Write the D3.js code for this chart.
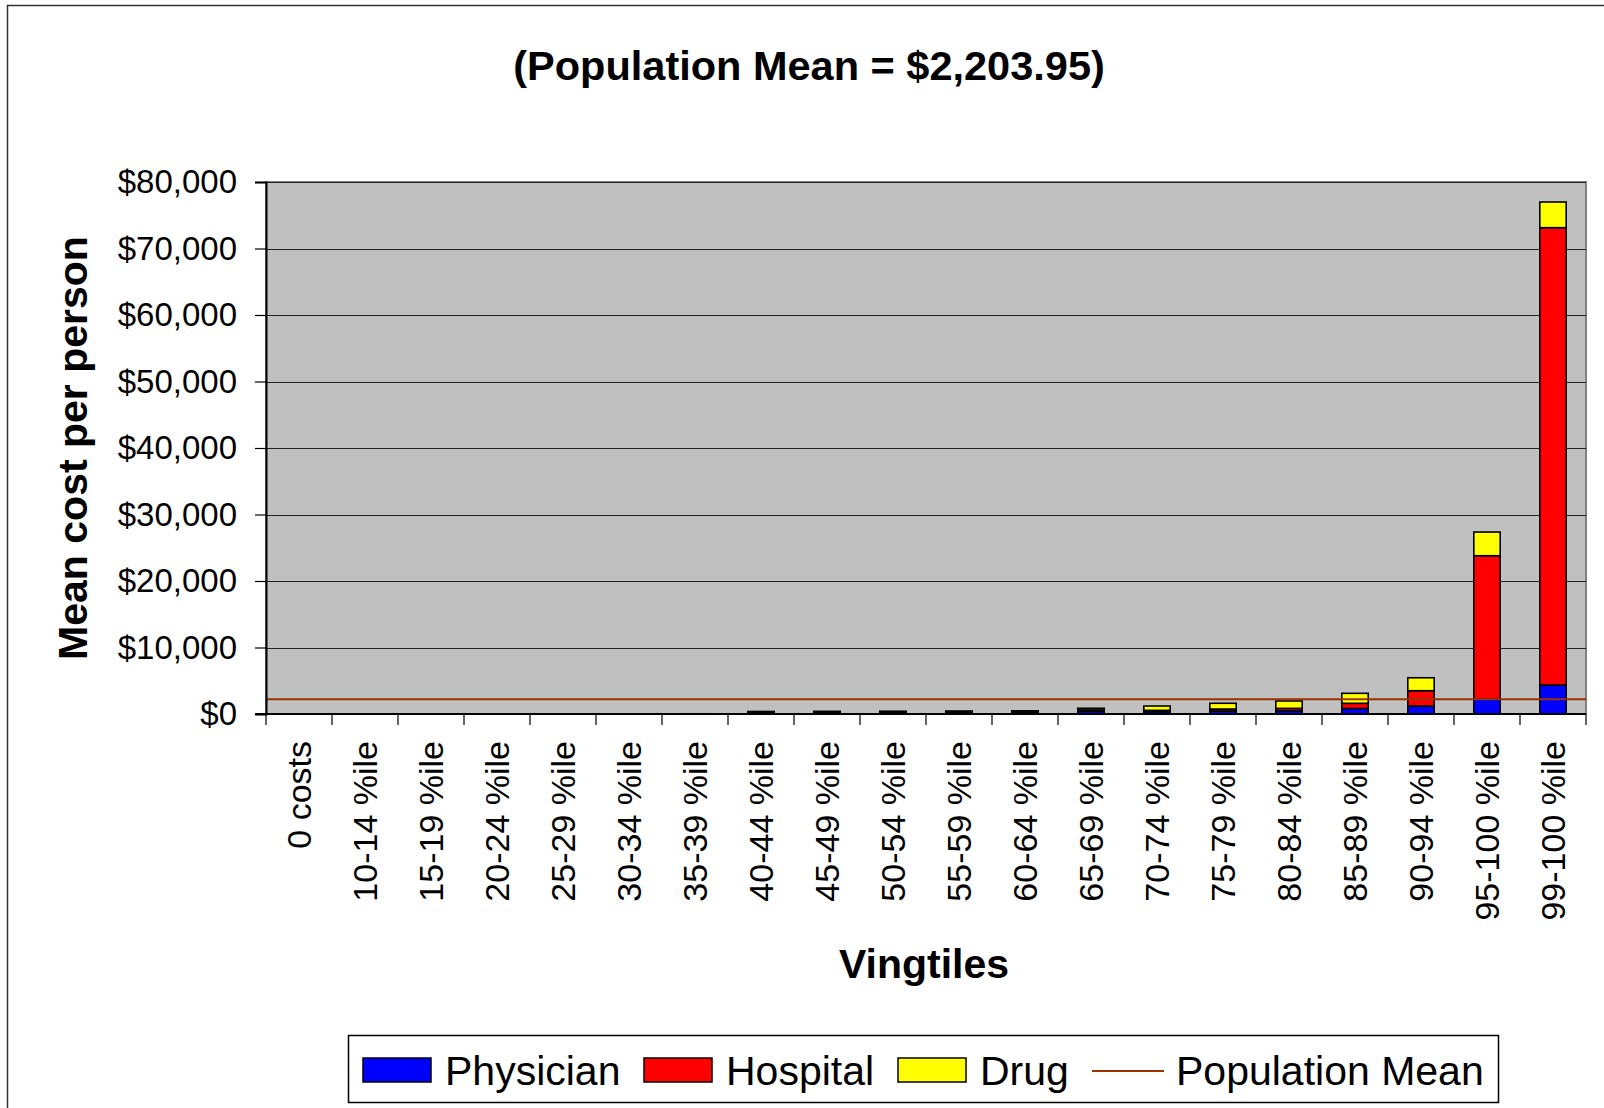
<!DOCTYPE html>
<html>
<head>
<meta charset="utf-8">
<script src="https://cdn.jsdelivr.net/npm/d3@7"></script>
<style>
  body { margin: 0; background: #fff; }
  svg { display: block; font-family: "Liberation Sans", Arial, sans-serif; }
</style>
</head>
<body>
<div id="chart"></div>
<script>
// vingtile categories
var categories = ["0 costs", "10-14 %ile", "15-19 %ile", "20-24 %ile", "25-29 %ile",
    "30-34 %ile", "35-39 %ile", "40-44 %ile", "45-49 %ile", "50-54 %ile",
    "55-59 %ile", "60-64 %ile", "65-69 %ile", "70-74 %ile", "75-79 %ile",
    "80-84 %ile", "85-89 %ile", "90-94 %ile", "95-100 %ile", "99-100 %ile"];

// mean cost per person, by component
var physician = [0, 5, 8, 10, 12, 15, 18, 180, 190, 200, 210, 220, 400, 350, 450, 500, 830, 1200, 2250, 4360];
var hospital = [0, 2, 3, 4, 5, 6, 7, 80, 85, 90, 100, 110, 200, 200, 300, 350, 780, 2300, 21550, 68770];
var drug = [0, 2, 3, 4, 5, 6, 7, 120, 125, 130, 140, 150, 260, 650, 860, 1100, 1500, 1950, 3560, 3860];

var populationMean = 2203.95;

var yTicks = [0, 10000, 20000, 30000, 40000, 50000, 60000, 70000, 80000];

var seriesNames = ["Physician", "Hospital", "Drug"];
var seriesColors = ["#0000ff", "#ff0000", "#ffff00"];

var W = 1604, H = 1108;
var margin = { top: 182, left: 266, right: 18, bottom: 394 };
var width = W - margin.left - margin.right;
var height = H - margin.top - margin.bottom;

var svg = d3.select("#chart").append("svg")
    .attr("width", W)
    .attr("height", H);

// outer chart border
svg.append("rect")
    .attr("x", 7.5).attr("y", 5.5)
    .attr("width", W).attr("height", H)
    .attr("fill", "none")
    .attr("stroke", "#333")
    .attr("stroke-width", 1.5);

var g = svg.append("g")
    .attr("transform", "translate(" + margin.left + "," + margin.top + ")");

var x = d3.scaleBand()
    .domain(categories)
    .range([0, width])
    .padding(0);

var y = d3.scaleLinear()
    .domain([0, 80000])
    .range([height, 0]);

// plot area
g.append("rect")
    .attr("x", 0).attr("y", 0)
    .attr("width", width).attr("height", height)
    .attr("fill", "#c0c0c0")
    .attr("stroke", "#808080")
    .attr("stroke-width", 2);

// gridlines
g.selectAll("line.grid")
    .data(yTicks.slice(1))
    .enter()
    .append("line")
    .attr("class", "grid")
    .attr("x1", 0).attr("x2", width)
    .attr("y1", function (d) { return Math.round(y(d)) + 0.5; })
    .attr("y2", function (d) { return Math.round(y(d)) + 0.5; })
    .attr("stroke", "#222")
    .attr("stroke-width", 1);

// stacked bars
var rows = categories.map(function (c, i) {
    return { cat: c, Physician: physician[i], Hospital: hospital[i], Drug: drug[i] };
});
var stacked = d3.stack().keys(seriesNames)(rows);

var barW = x.bandwidth() * 0.4;
stacked.forEach(function (layer, k) {
    g.selectAll("rect.s" + k)
        .data(layer)
        .enter()
        .append("rect")
        .attr("class", "s" + k)
        .attr("x", function (d) { return x(d.data.cat) + (x.bandwidth() - barW) / 2; })
        .attr("y", function (d) { return y(d[1]); })
        .attr("width", barW)
        .attr("height", function (d) { return y(d[0]) - y(d[1]); })
        .attr("fill", seriesColors[k])
        .attr("stroke", "#000")
        .attr("stroke-width", 1.6);
});

// population mean line
g.append("line")
    .attr("x1", 0).attr("x2", width)
    .attr("y1", y(populationMean)).attr("y2", y(populationMean))
    .attr("stroke", "#993300")
    .attr("stroke-width", 2);

// y axis
var yaxis = g.append("g")
    .attr("class", "y axis")
    .call(d3.axisLeft(y).tickValues(yTicks).tickSize(11).tickPadding(18)
        .tickFormat(function (d) { return "$" + d3.format(",")(d); }));
yaxis.select("path").attr("stroke", "#000").attr("stroke-width", 2);
yaxis.selectAll("line").attr("stroke", "#000").attr("stroke-width", 1.2);
yaxis.selectAll("text")
    .attr("font-size", "33px")
    .attr("font-family", "'Liberation Sans', Arial, sans-serif")
    .attr("fill", "#000");

// x axis: ticks between categories
var xaxis = g.append("g")
    .attr("class", "x axis")
    .attr("transform", "translate(0," + height + ")");
xaxis.append("line")
    .attr("x1", -11).attr("x2", width)
    .attr("stroke", "#000").attr("stroke-width", 2);
xaxis.selectAll("line.tick")
    .data(categories.concat(["end"]))
    .enter()
    .append("line")
    .attr("class", "tick")
    .attr("x1", function (d) { return d === "end" ? width : x(d); })
    .attr("x2", function (d) { return d === "end" ? width : x(d); })
    .attr("y1", 0).attr("y2", 11)
    .attr("stroke", "#000").attr("stroke-width", 1.2);
xaxis.selectAll("text")
    .data(categories)
    .enter()
    .append("text")
    .attr("transform", function (d) {
        return "translate(" + (x(d) + x.bandwidth() / 2) + ",27) rotate(-90)";
    })
    .attr("text-anchor", "end")
    .attr("dy", "0.35em")
    .attr("font-size", "34px")
    .text(function (d) { return d; });

// title
svg.append("text")
    .attr("x", 809).attr("y", 80)
    .attr("text-anchor", "middle")
    .attr("font-size", "41.5px")
    .attr("font-weight", "bold")
    .text("(Population Mean = $" + d3.format(",.2f")(populationMean) + ")");

// axis titles
svg.append("text")
    .attr("x", 924).attr("y", 978)
    .attr("text-anchor", "middle")
    .attr("font-size", "41px")
    .attr("font-weight", "bold")
    .text("Vingtiles");

svg.append("text")
    .attr("transform", "translate(87," + (margin.top + height / 2) + ") rotate(-90)")
    .attr("text-anchor", "middle")
    .attr("font-size", "41px")
    .attr("font-weight", "bold")
    .text("Mean cost per person");

// legend
var legend = svg.append("g").attr("class", "legend");
legend.append("rect")
    .attr("x", 348.5).attr("y", 1035.5)
    .attr("width", 1150).attr("height", 67)
    .attr("fill", "#fff")
    .attr("stroke", "#000")
    .attr("stroke-width", 1.5);

var legendItems = [
    { name: "Physician", color: seriesColors[0], x: 363 },
    { name: "Hospital", color: seriesColors[1], x: 644 },
    { name: "Drug", color: seriesColors[2], x: 898 }
];
legendItems.forEach(function (it) {
    legend.append("rect")
        .attr("x", it.x).attr("y", 1058)
        .attr("width", 68).attr("height", 24)
        .attr("fill", it.color)
        .attr("stroke", "#000")
        .attr("stroke-width", 1.5);
    legend.append("text")
        .attr("x", it.x + 82).attr("y", 1085)
        .attr("font-size", "41px")
        .text(it.name);
});
legend.append("line")
    .attr("x1", 1092).attr("x2", 1164)
    .attr("y1", 1071).attr("y2", 1071)
    .attr("stroke", "#993300")
    .attr("stroke-width", 2);
legend.append("text")
    .attr("x", 1176).attr("y", 1085)
    .attr("font-size", "41px")
    .text("Population Mean");
</script>
</body>
</html>
